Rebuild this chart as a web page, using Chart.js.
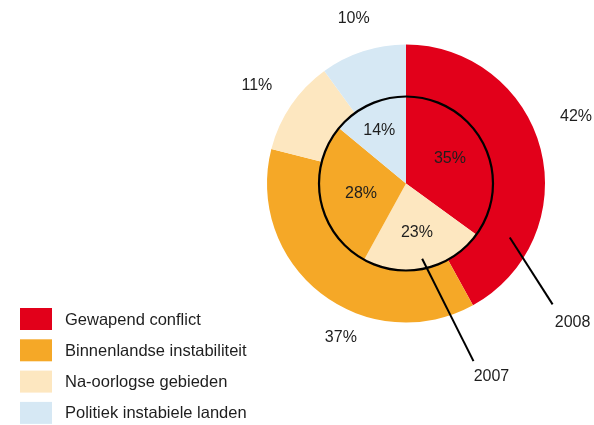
<!DOCTYPE html>
<html>
<head>
<meta charset="utf-8">
<script src="https://cdn.jsdelivr.net/npm/chart.js@4/dist/chart.umd.min.js"></script>
<style>
  html, body { margin: 0; padding: 0; background: #fff; }
</style>
</head>
<body>
<canvas id="grafiek" width="594" height="425"></canvas>
<script>
// Gegevens
var categorieen = ['Gewapend conflict', 'Binnenlandse instabiliteit', 'Na-oorlogse gebieden', 'Politiek instabiele landen'];
var kleuren = ['#e2001a', '#f5a827', '#fde7c0', '#d6e8f4'];
var waarden2008 = [42, 37, 11, 10];   // buitenring, per categorie
var waarden2007 = [35, 28, 23, 14];   // binnencirkel, per categorie
var volgorde2008 = [0, 1, 2, 3];      // volgorde van de stukken (met de klok mee)
var volgorde2007 = [0, 2, 1, 3];
var jaren = ['2008', '2007'];

var tekstKleur = '#1e1e1e';
var lettertype = '"Liberation Sans", Arial, sans-serif';

function polair(cx, cy, graden, r) {
    var a = (graden - 90) * Math.PI / 180;
    return { x: cx + r * Math.cos(a), y: cy + r * Math.sin(a) };
}

var tekstPlugin = {
    id: 'tekst',
    afterDatasetsDraw: function (chart, args, opts) {
        var ctx = chart.ctx;
        var buiten = chart.getDatasetMeta(0).data;
        var binnen = chart.getDatasetMeta(1).data;
        var cx = buiten[0].x, cy = buiten[0].y;
        ctx.save();

        // zwarte cirkel rond 2007
        ctx.beginPath();
        ctx.arc(cx, cy, binnen[0].outerRadius, 0, Math.PI * 2);
        ctx.lineWidth = 2.2;
        ctx.strokeStyle = '#000';
        ctx.stroke();

        // percentages
        ctx.font = '16px ' + lettertype;
        ctx.fillStyle = tekstKleur;
        ctx.textAlign = 'center';
        ctx.textBaseline = 'middle';
        var ringen = [opts.buiten, opts.binnen];
        chart.data.datasets.forEach(function (ds, d) {
            chart.getDatasetMeta(d).data.forEach(function (arc, i) {
                var mid = (arc.startAngle + arc.endAngle) / 2 * 180 / Math.PI + 90 + ringen[d].draai[i];
                var p = polair(cx, cy, mid, ringen[d].afstand[i]);
                ctx.fillText(ds.data[i] + '%', p.x, p.y + 1);
            });
        });

        // verwijslijnen naar de jaartallen
        opts.lijnen.forEach(function (l, k) {
            var a = polair(cx, cy, l.van[0], l.van[1]);
            var b = polair(cx, cy, l.naar[0], l.naar[1]);
            ctx.beginPath();
            ctx.moveTo(a.x, a.y);
            ctx.lineTo(b.x, b.y);
            ctx.lineWidth = 2;
            ctx.strokeStyle = '#000';
            ctx.stroke();
            ctx.fillText(jaren[k], b.x + l.tekst[0], b.y + l.tekst[1]);
        });

        // legenda
        var lg = opts.legenda;
        ctx.font = '16.5px ' + lettertype;
        ctx.textAlign = 'left';
        categorieen.forEach(function (naam, i) {
            var y = lg.y + i * lg.stap;
            ctx.fillStyle = kleuren[i];
            ctx.fillRect(lg.x, y, lg.breed, lg.hoog);
            ctx.fillStyle = tekstKleur;
            ctx.fillText(naam, lg.tekstX, y + lg.hoog / 2 + 1);
        });
        ctx.restore();
    }
};

var ctx = document.getElementById('grafiek');
new Chart(ctx, {
    type: 'pie',
    data: {
        labels: categorieen,
        datasets: [
            {
                label: jaren[0],
                data: volgorde2008.map(function (i) { return waarden2008[i]; }),
                backgroundColor: volgorde2008.map(function (i) { return kleuren[i]; }),
                borderWidth: 0,
                weight: 52
            },
            {
                label: jaren[1],
                data: volgorde2007.map(function (i) { return waarden2007[i]; }),
                backgroundColor: volgorde2007.map(function (i) { return kleuren[i]; }),
                borderWidth: 0,
                weight: 87
            }
        ]
    },
    options: {
        responsive: false,
        animation: false,
        devicePixelRatio: 1,
        radius: 139,
        hoverOffset: 0,
        layout: { padding: { left: 218, right: 0, top: 0, bottom: 58 } },
        plugins: {
            legend: { display: false },
            tooltip: { enabled: false },
            tekst: {
                buiten: { draai: [-7.3, -14.7, -0.6, 0.5], afstand: [183, 166, 179, 174] },
                binnen: { draai: [-3.4, -0.3, -1.2, -1.2], afstand: [51, 49, 46, 60] },
                lijnen: [
                    { van: [117.5, 117], naar: [129.5, 190], tekst: [20, 18] },
                    { van: [167.9, 77], naar: [159.2, 190], tekst: [18, 15] }
                ],
                legenda: { x: 20, y: 308, stap: 31.3, breed: 32, hoog: 22, tekstX: 65 }
            }
        }
    },
    plugins: [tekstPlugin]
});
</script>
</body>
</html>
